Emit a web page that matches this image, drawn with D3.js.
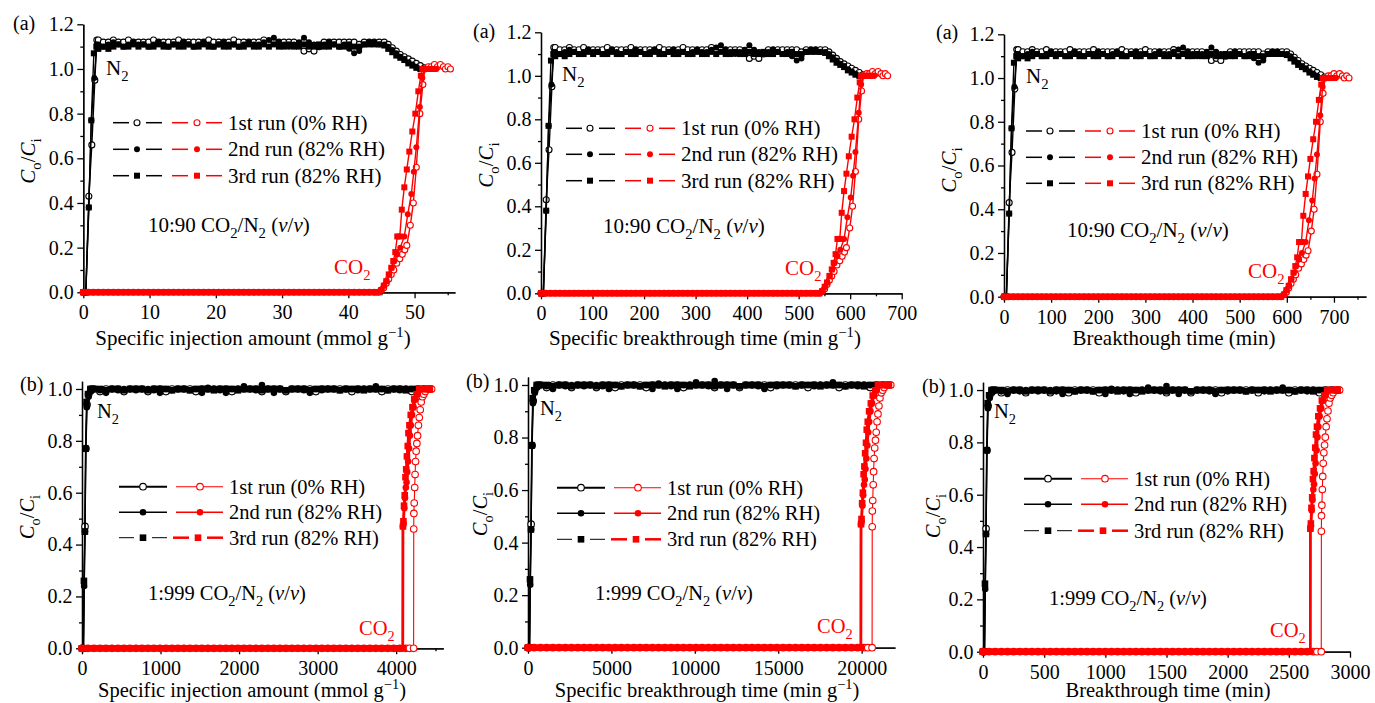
<!DOCTYPE html>
<html>
<head>
<meta charset="utf-8">
<script src="https://cdn.jsdelivr.net/npm/d3@7"></script>
</head>
<body style="margin:0">
<svg id="chart" width="1375" height="703"></svg>
<script>
const FONT = '"Liberation Serif", serif';

// ---- data, top row (10:90 CO2/N2), time in min (as in the right-hand panel) ----
const topPlateauT = [30,40,50,60,70,80,90,100,110,120,130,140,150,160,170,180,190,200,210,220,
  230,240,250,260,270,280,290,300,310,320,330,340,350,360,370,380,390,400,410,420,
  430,440,450,460,470,480,490,500,510,520,530,540,550,560,570,580];
const topN2Plateau1 = [1.13,1.12,1.12,1.13,1.12,1.12,1.13,1.12,1.12,1.12,
  1.12,1.13,1.12,1.12,1.12,1.12,1.13,1.12,1.12,1.12,
  1.12,1.12,1.13,1.12,1.12,1.12,1.12,1.13,1.12,1.12,
  1.12,1.12,1.12,1.13,1.12,1.12,1.12,1.12,1.12,1.12,
  1.11,1.08,1.09,1.08,1.10,1.12,1.12,1.12,1.12,1.12,
  1.12,1.12,1.11,1.12,1.12,1.12];
const topN2Plateau2 = [1.11,1.10,1.11,1.12,1.11,1.10,1.11,1.12,1.11,1.11,
  1.10,1.11,1.12,1.11,1.10,1.11,1.11,1.12,1.11,1.10,
  1.11,1.12,1.11,1.10,1.11,1.12,1.11,1.11,1.10,1.11,
  1.12,1.11,1.11,1.12,1.13,1.14,1.12,1.11,1.10,1.11,
  1.12,1.14,1.12,1.11,1.10,1.11,1.12,1.11,1.10,1.11,
  1.09,1.07,1.08,1.11,1.12,1.12];
const topN2Plateau3 = [1.09,1.10,1.09,1.10,1.11,1.10,1.10,1.11,1.10,1.11,
  1.10,1.10,1.11,1.10,1.10,1.11,1.10,1.10,1.11,1.10,
  1.10,1.11,1.10,1.10,1.11,1.10,1.10,1.11,1.10,1.10,
  1.11,1.10,1.10,1.11,1.10,1.11,1.10,1.10,1.11,1.10,
  1.10,1.11,1.10,1.10,1.11,1.10,1.10,1.11,1.10,1.10,
  1.11,1.10,1.10,1.11,1.11,1.11];
const topN2Rise1 = [[0,0],[5,0],[11,0.43],[17,0.66],[23,0.95],[27,1.13]];
const topN2Rise2 = [[0,0],[5,0],[11,0.38],[16,0.77],[22,0.96],[27,1.11]];
const topN2Rise3 = [[0,0],[5,0],[11,0.38],[16,0.77],[21,1.07],[26,1.10]];
const topN2Tail1 = [[590,1.12],[600,1.12],[608,1.11],[616,1.095],[624,1.08],[632,1.065],[640,1.055],[648,1.045],[656,1.035],[664,1.025],[672,1.015],[680,1.005]];
const topN2Tail2 = [[590,1.11],[600,1.11],[608,1.10],[616,1.085],[624,1.07],[632,1.055],[640,1.045],[648,1.03],[656,1.02],[664,1.01],[672,1.0]];
const topN2Tail3 = [[590,1.11],[600,1.105],[608,1.09],[616,1.075],[624,1.06],[632,1.05],[640,1.04],[648,1.025],[656,1.015],[664,1.005],[672,1.0]];
const topCO2BaseT = [0,10,20,30,40,50,60,70,80,90,100,110,120,130,140,150,160,170,180,190,
  200,210,220,230,240,250,260,270,280,290,300,310,320,330,340,350,360,370,380,390,
  400,410,420,430,440,450,460,470,480,490,500,510,520,530,540,550,560,570,580];
const topCO2BaseV = [0,0,0,0,0,0,0,0,0,0,0,0,0,0,0,0,0,0,0,0,
  0,0,0,0,0,0,0,0,0,0,0,0,0,0,0,0,0,0,0,0,
  0,0,0,0,0,0,0,0,0,0,0,0,0,0,0,0,0,0,0];
const topCO2Rise1 = [[588,0],[594,0.01],[599,0.02],[604,0.04],[609,0.06],[614,0.08],[619,0.10],[625,0.13],[631,0.15],[636,0.17],[641,0.19],[645,0.21],[652,0.30],[658,0.40],[664,0.56],[671,0.80],[677,0.93],[681,1.0],[688,1.01],[694,1.01],[700,1.02],[706,1.01],[712,1.02],[718,1.01],[722,1.0],[727,1.01],[732,1.0]];
const topCO2Rise2 = [[588,0],[595,0.01],[600,0.03],[605,0.05],[610,0.08],[615,0.11],[620,0.14],[626,0.17],[632,0.20],[640,0.25],[647,0.35],[654,0.44],[659,0.54],[664,0.65],[671,0.83],[676,0.96],[680,1.0],[686,1.0],[692,1.0],[698,1.0],[704,1.0]];
const topCO2Rise3 = [[588,0],[594,0.01],[599,0.03],[604,0.05],[609,0.08],[614,0.11],[618,0.14],[622,0.18],[626,0.25],[631,0.25],[635,0.37],[640,0.47],[645,0.55],[650,0.63],[656,0.72],[662,0.80],[668,0.90],[673,0.97],[676,1.0],[682,1.0],[688,1.0],[694,1.0],[700,1.0]];

// ---- data, bottom row (1:999 CO2/N2), time in min ----
const bottomPlateauT = [100,150,200,250,300,350,400,450,500,550,600,650,700,750,800,850,900,950,1000,1050,
  1100,1150,1200,1250,1300,1350,1400,1450,1500,1550,1600,1650,1700,1750,1800,1850,1900,1950,2000,2050,
  2100,2150,2200,2250,2300,2350,2400,2450,2500,2550,2600,2650,2700,2750,2800,2850,2900];
const bottomN2Plateau1 = [1.00,0.99,1.00,1.00,1.00,0.99,1.00,1.00,1.00,0.99,
  1.00,1.00,0.99,1.00,1.00,1.00,1.00,0.99,1.00,1.00,
  1.00,1.00,1.00,0.99,1.00,1.00,1.00,1.00,0.99,1.00,
  1.00,1.00,0.99,1.00,1.00,1.00,1.00,0.99,1.00,1.00,
  1.00,1.00,1.00,0.99,1.00,1.00,1.00,1.00,0.99,1.00,
  1.00,1.00,1.00,0.99,1.00,1.00,1.00];
const bottomN2Plateau2 = [1.00,0.995,0.985,1.00,0.995,1.00,1.00,0.995,1.00,1.00,
  0.995,0.985,1.00,0.995,1.00,1.00,0.995,1.00,0.985,1.005,
  1.00,0.995,0.985,1.00,1.00,1.01,1.00,0.995,1.015,1.00,
  0.985,1.00,0.995,1.00,1.00,0.995,0.985,1.00,0.995,1.00,
  1.00,0.995,1.00,1.00,0.995,1.00,1.00,1.01,1.00,0.995,
  1.00,0.995,1.00,1.00,0.995,1.00,1.00];
const bottomN2Plateau3 = [1.00,1.00,0.995,1.00,1.00,0.995,1.00,1.00,1.00,0.995,
  1.00,1.00,1.00,0.995,1.00,1.00,0.995,1.00,1.00,1.00,
  0.995,1.00,1.00,1.00,0.995,1.00,1.00,1.00,0.995,1.00,
  1.00,1.00,0.995,1.00,1.00,1.00,0.995,1.00,1.00,1.00,
  1.00,0.995,1.00,1.00,1.00,0.995,1.00,1.00,1.00,0.995,
  1.00,1.00,0.995,1.00,1.00,1.00,1.00];
const bottomN2Rise1 = [[0,0],[12,0],[25,0.47],[33,0.77],[42,0.94],[55,0.98],[75,1.0]];
const bottomN2Rise2 = [[0,0],[12,0],[18,0.24],[25,0.45],[31,0.77],[40,0.93],[55,0.97],[75,0.99]];
const bottomN2Rise3 = [[0,0],[12,0],[16,0.26],[24,0.45],[30,0.77],[38,0.95],[50,0.98],[70,1.0]];
const bottomCO2BaseT = [0,50,100,150,200,250,300,350,400,450,500,550,600,650,700,750,800,850,900,950,
  1000,1050,1100,1150,1200,1250,1300,1350,1400,1450,1500,1550,1600,1650,1700,1750,1800,1850,1900,1950,
  2000,2050,2100,2150,2200,2250,2300,2350,2400,2450,2500,2550,2600,2650];
const bottomCO2BaseV = [0,0,0,0,0,0,0,0,0,0,0,0,0,0,0,0,0,0,0,0,
  0,0,0,0,0,0,0,0,0,0,0,0,0,0,0,0,0,0,0,0,
  0,0,0,0,0,0,0,0,0,0,0,0,0,0];
const bottomCO2Rise1 = [[2700,0],[2730,0],[2765,0],[2766,0.46],[2767,0.52],[2770,0.56],[2774,0.62],[2777,0.67],[2781,0.72],[2786,0.76],[2792,0.79],[2798,0.82],[2805,0.86],[2812,0.89],[2820,0.92],[2828,0.95],[2838,0.97],[2850,0.98],[2862,0.99],[2878,1.0],[2900,1.0],[2915,1.0]];
const bottomCO2Rise2 = [[2675,0],[2676,0.47],[2681,0.48],[2687,0.54],[2693,0.58],[2700,0.62],[2706,0.64],[2712,0.68],[2719,0.72],[2727,0.77],[2734,0.82],[2742,0.86],[2752,0.90],[2765,0.93],[2780,0.96],[2800,0.98],[2825,1.0],[2850,1.0],[2875,1.0],[2900,1.0]];
const bottomCO2Rise3 = [[2675,0],[2676,0.47],[2680,0.49],[2685,0.55],[2691,0.59],[2697,0.66],[2703,0.69],[2709,0.74],[2716,0.78],[2722,0.83],[2730,0.86],[2741,0.90],[2755,0.93],[2770,0.96],[2790,0.98],[2812,1.0],[2840,1.0],[2870,1.0],[2900,1.0]];

// unit conversion of the time axis for each panel (injection amount, per gram, min)
const topFactors = [0.0757, 0.919, 1];
const bottomFactors = [1.527, 7.46, 1];

// axes
const xMaxes = [56.1, 700, 768, 4600, 22000, 3000];
const yMaxes = [1.2, 1.2, 1.2, 1.03, 1.03, 1.03];
const xTicks = [[0,10,20,30,40,50], [0,100,200,300,400,500,600,700], [0,100,200,300,400,500,600,700],
  [0,1000,2000,3000,4000], [0,5000,10000,15000,20000], [0,500,1000,1500,2000,2500,3000]];
const xMinor = [[5,15,25,35,45,55], [50,150,250,350,450,550,650], [50,150,250,350,450,550,650,750],
  [500,1500,2500,3500,4500], [2500,7500,12500,17500], [250,750,1250,1750,2250,2750]];
const yTicksTop = [0,0.2,0.4,0.6,0.8,1.0,1.2];
const yMinorTop = [0.1,0.3,0.5,0.7,0.9,1.1];
const yTicksBottom = [0,0.2,0.4,0.6,0.8,1.0];
const yMinorBottom = [0.1,0.3,0.5,0.7,0.9];

const runLabels = ['1st run (0% RH)', '2nd run (82% RH)', '3rd run (82% RH)'];
const panelLetters = ['(a)', '(a)', '(a)', '(b)', '(b)', '(b)'];
const xTitles = [
  [['Specific injection amount (mmol g'], ['\u22121', 'sup'], [')']],
  [['Specific breakthrough time (min g'], ['\u22121', 'sup'], [')']],
  [['Breakthough time (min)']],
  [['Specific injection amount (mmol g'], ['\u22121', 'sup'], [')']],
  [['Specific breakthrough time (min g'], ['\u22121', 'sup'], [')']],
  [['Breakthrough time (min)']]
];

// plot boxes (pixel layout)
const boxes = [
  {x0: 83.3, x1: 455,   y0: 292.3, y1: 24.3},
  {x0: 541,  x1: 901.7, y0: 293.3, y1: 32.3},
  {x0: 1004, x1: 1366,  y0: 296.7, y1: 34.3},
  {x0: 82,   x1: 443.3, y0: 648.3, y1: 381.2},
  {x0: 528,  x1: 895,   y0: 647.7, y1: 377.1},
  {x0: 983,  x1: 1350,  y0: 651.7, y1: 382.2}
];
// annotation positions
const notes = [
  {letter: [13, 30],  n2: [106, 75],  leg: [228, [122.7, 149.3, 175.7]], mix: [148, 232], co2: [334, 274], ylab: [28, 161],  title: [253, 345]},
  {letter: [473, 38], n2: [562, 81],  leg: [681, [128.3, 154.3, 180.7]], mix: [603, 233], co2: [785, 275], ylab: [486, 165], title: [705, 345]},
  {letter: [936, 39], n2: [1026, 83], leg: [1141, [131, 157.3, 183.3]],  mix: [1067, 237], co2: [1248, 278], ylab: [949, 170], title: [1174, 345]},
  {letter: [20, 391], n2: [97, 418],  leg: [229, [486.7, 512.3, 537.7]], mix: [148, 600], co2: [359, 635], ylab: [27, 517],  title: [252, 697]},
  {letter: [466, 388], n2: [540, 415], leg: [667, [487.7, 513.3, 539.3]], mix: [595, 600], co2: [817, 633], ylab: [480, 514], title: [707, 697]},
  {letter: [922, 393], n2: [994, 418], leg: [1134, [478.7, 504.3, 530.7]], mix: [1049, 605], co2: [1270, 637], ylab: [933, 516], title: [1168, 697]}
];

const RED = '#ff0000';
const markerTypes = ['open', 'fill', 'square'];
const svg = d3.select('#chart').attr('font-family', FONT);

function pairs(ts, vs) {
  return ts.map((t, i) => [t, vs[i]]);
}

const topN2 = [
  topN2Rise1.concat(pairs(topPlateauT, topN2Plateau1), topN2Tail1),
  topN2Rise2.concat(pairs(topPlateauT, topN2Plateau2), topN2Tail2),
  topN2Rise3.concat(pairs(topPlateauT, topN2Plateau3), topN2Tail3)
];
const topCO2 = [
  pairs(topCO2BaseT, topCO2BaseV).concat(topCO2Rise1),
  pairs(topCO2BaseT, topCO2BaseV).concat(topCO2Rise2),
  pairs(topCO2BaseT, topCO2BaseV).concat(topCO2Rise3)
];
const bottomN2 = [
  bottomN2Rise1.concat(pairs(bottomPlateauT, bottomN2Plateau1)),
  bottomN2Rise2.concat(pairs(bottomPlateauT, bottomN2Plateau2)),
  bottomN2Rise3.concat(pairs(bottomPlateauT, bottomN2Plateau3))
];
const bottomCO2 = [
  pairs(bottomCO2BaseT, bottomCO2BaseV).concat(bottomCO2Rise1),
  pairs(bottomCO2BaseT, bottomCO2BaseV).concat(bottomCO2Rise2),
  pairs(bottomCO2BaseT, bottomCO2BaseV).concat(bottomCO2Rise3)
];

// text with italic / sub / sup parts
function rich(g, x, y, parts, size, color) {
  const t = g.append('text').attr('x', x).attr('y', y).attr('font-size', size)
    .attr('font-family', FONT).attr('fill', color || '#000');
  let shift = 0;
  parts.forEach(p => {
    const s = p[0], kind = p[1];
    const target = kind === 'sub' ? size * 0.28 : kind === 'sup' ? -size * 0.4 : 0;
    const ts = t.append('tspan').text(s).attr('dy', target - shift);
    shift = target;
    if (kind === 'sub' || kind === 'sup') ts.attr('font-size', size * 0.7);
    if (kind === 'i') ts.attr('font-style', 'italic');
  });
  return t;
}

function marker(g, x, y, type, color, r) {
  if (type === 'square') {
    g.append('rect').attr('x', x - r).attr('y', y - r)
      .attr('width', 2 * r).attr('height', 2 * r).attr('fill', color);
  } else {
    g.append('circle').attr('cx', x).attr('cy', y).attr('r', r)
      .attr('fill', type === 'open' ? '#fff' : color)
      .attr('stroke', color).attr('stroke-width', type === 'open' ? 1.1 : 0);
  }
}

function drawSeries(g, data, xs, ys, f, color, type, lw, r) {
  const line = d3.line().x(d => xs(d[0] * f)).y(d => ys(d[1]));
  g.append('path').attr('d', line(data)).attr('fill', 'none')
    .attr('stroke', color).attr('stroke-width', lw).attr('stroke-linejoin', 'round');
  const mg = g.append('g');
  data.forEach(d => marker(mg, xs(d[0] * f), ys(d[1]), type, color, r));
}

function seg(g, xa, xb, y, color, w) {
  g.append('line').attr('x1', xa).attr('x2', xb).attr('y1', y).attr('y2', y)
    .attr('stroke', color).attr('stroke-width', w);
}

function legendRow(g, xt, yr, run, isTop, fs, r) {
  const type = markerTypes[run];
  if (isTop) {
    seg(g, xt - 115, xt - 99, yr, '#000', 1.5);
    marker(g, xt - 91, yr, type, '#000', r);
    seg(g, xt - 82, xt - 66, yr, '#000', 1.5);
    seg(g, xt - 56, xt - 40, yr, RED, 1.5);
    marker(g, xt - 31, yr, type, RED, r);
    seg(g, xt - 22, xt - 6, yr, RED, 1.5);
  } else if (run < 2) {
    seg(g, xt - 110, xt - 62, yr, '#000', run === 0 ? 2 : 1.5);
    marker(g, xt - 86, yr, type, '#000', r);
    seg(g, xt - 53, xt - 6, yr, RED, run === 0 ? 1.1 : 1.5);
    marker(g, xt - 29, yr, type, RED, r);
  } else {
    seg(g, xt - 110, xt - 95, yr, '#000', 1);
    marker(g, xt - 86, yr, type, '#000', r);
    seg(g, xt - 77, xt - 62, yr, '#000', 1);
    seg(g, xt - 56, xt - 40, yr, RED, 2.5);
    marker(g, xt - 31, yr, type, RED, r);
    seg(g, xt - 22, xt - 6, yr, RED, 2.5);
  }
  rich(g, xt, yr + 7, [[runLabels[run]]], fs);
}

boxes.forEach((b, i) => {
  const isTop = i < 3;
  const col = i % 3;
  const f = isTop ? topFactors[col] : bottomFactors[col];
  const fs = isTop ? 21 : 20.5;
  const r = isTop ? 3 : 3.3;
  const n = notes[i];
  const g = svg.append('g');

  const xs = d3.scaleLinear().domain([0, xMaxes[i]]).range([b.x0, b.x1]);
  const ys = d3.scaleLinear().domain([0, yMaxes[i]]).range([b.y0, b.y1]);

  // axes first, the data marks lie on top of them
  const xAxis = d3.axisBottom(xs).tickValues(xTicks[i]).tickSize(6).tickSizeOuter(0)
    .tickPadding(7).tickFormat(d3.format('d'));
  const xAxisMinor = d3.axisBottom(xs).tickValues(xMinor[i].filter(v => v <= xMaxes[i]))
    .tickSize(3).tickSizeOuter(0).tickFormat('');
  const yAxis = d3.axisLeft(ys).tickValues(isTop ? yTicksTop : yTicksBottom).tickSize(6)
    .tickSizeOuter(0).tickPadding(3.5).tickFormat(d3.format('.1f'));
  const yAxisMinor = d3.axisLeft(ys).tickValues(isTop ? yMinorTop : yMinorBottom)
    .tickSize(3).tickSizeOuter(0).tickFormat('');

  [[xAxis, 'x'], [xAxisMinor, 'x'], [yAxis, 'y'], [yAxisMinor, 'y']].forEach(([ax, d]) => {
    const ag = g.append('g')
      .attr('transform', d === 'x' ? `translate(0,${b.y0})` : `translate(${b.x0},0)`)
      .call(ax)
      .attr('font-family', FONT).attr('font-size', 20);
    ag.selectAll('path, line').attr('stroke', '#000').attr('stroke-width', 1.3);
    ag.selectAll('text').attr('font-size', 20).attr('font-family', FONT).attr('fill', '#000');
  });

  // series: N2 black first, then CO2 red
  const n2 = isTop ? topN2 : bottomN2;
  const co2 = isTop ? topCO2 : bottomCO2;
  const plot = g.append('g');
  n2.forEach((s, k) => drawSeries(plot, s, xs, ys, f, '#000', markerTypes[k], 1.4, r));
  co2.forEach((s, k) => {
    const lw = isTop ? 1.4 : (k === 0 ? 1.1 : 2.5);
    drawSeries(plot, s, xs, ys, f, RED, markerTypes[k], lw, r);
  });

  // titles and notes
  rich(g, n.title[0], n.title[1], xTitles[i], fs).attr('text-anchor', 'middle');
  const yl = g.append('g').attr('transform', `translate(${n.ylab[0]},${n.ylab[1]}) rotate(-90)`);
  rich(yl, 0, 7, [['C', 'i'], ['o', 'sub'], ['/'], ['C', 'i'], ['i', 'sub']], fs).attr('text-anchor', 'middle');

  rich(g, n.letter[0], n.letter[1], [[panelLetters[i]]], 20);
  rich(g, n.n2[0], n.n2[1], [['N'], ['2', 'sub']], fs);
  rich(g, n.co2[0], n.co2[1], [['CO'], ['2', 'sub']], fs, RED);
  rich(g, n.mix[0], n.mix[1], [[isTop ? '10:90 CO' : '1:999 CO'], ['2', 'sub'], ['/N'], ['2', 'sub'],
    [' ('], ['v', 'i'], ['/'], ['v', 'i'], [')']], fs);

  n.leg[1].forEach((yr, k) => legendRow(g, n.leg[0], yr, k, isTop, fs, r));
});
</script>
</body>
</html>
